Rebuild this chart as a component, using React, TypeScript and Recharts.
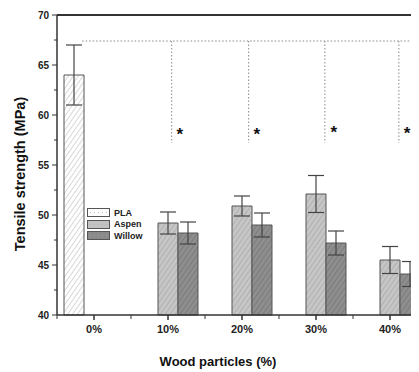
import React from "react"
import { BarChart, Bar, XAxis, YAxis, ErrorBar, ReferenceLine, ReferenceDot } from "recharts"

// categories and values
const categories = ["0%", "10%", "20%", "30%", "40%"]
const plaValues = [64.0, null, null, null, null]
const plaErrors = [3.0, null, null, null, null]
const aspenValues = [null, 49.2, 50.9, 52.1, 45.5]
const aspenErrors = [null, 1.1, 1.0, 1.85, 1.35]
const willowValues = [null, 48.2, 49.0, 47.2, 44.1]
const willowErrors = [null, 1.1, 1.2, 1.2, 1.25]

const yTicks = [40, 42.5, 45, 47.5, 50, 52.5, 55, 57.5, 60, 62.5, 65, 67.5, 70]

// significance markers (x in category units, 0 = first category centre)
const sigLineY = 67.4
const sigLineStart = -0.16
const sigLineEnd = 4.5
const sigBottomY = 57.2
const sigDropX = [1.05, 2.09, 3.12, 4.12]
const sigStarX = [1.16, 2.2, 3.24, 4.23]
const sigStarY = [58.2, 58.2, 58.4, 58.3]
const boundaryTicks = [-0.5, 0.5, 1.5, 2.5, 3.5]

const series = [
  { key: "PLA", fill: "url(#hatchPla)", swatch: "#ffffff" },
  { key: "Aspen", fill: "url(#hatchAspen)", swatch: "#c2c2c2" },
  { key: "Willow", fill: "url(#hatchWillow)", swatch: "#8a8a8a" },
]

const data = categories.map((c, i) => ({
  name: c,
  pos: i,
  PLA: plaValues[i],
  plaErr: plaErrors[i],
  Aspen: aspenValues[i],
  aspenErr: aspenErrors[i],
  Willow: willowValues[i],
  willowErr: willowErrors[i],
}))

const font = "'Liberation Sans', Arial, sans-serif"
const axisColor = "#333"

const YTick = (props: any) => {
  const { x, y, payload } = props
  const axisX = x + 8
  const major = payload.value % 5 === 0
  return (
    <g>
      <line x1={axisX - (major ? 5 : 3)} x2={axisX} y1={y} y2={y} stroke={axisColor} strokeWidth={1} />
      {major && (
        <text x={axisX - 8} y={y} dy={3.5} textAnchor="end" fontSize={10} fontWeight="bold" fill="#222" fontFamily={font}>
          {payload.value}
        </text>
      )}
    </g>
  )
}

const Star = (props: any) => (
  <text x={props.cx} y={props.cy} dy={7} textAnchor="middle" fontSize={17} fontWeight="bold" fill="#111" fontFamily={font}>
    *
  </text>
)

export default function App() {
  return (
    <div style={{ position: "relative", width: 411, height: 364, overflow: "hidden" }}>
      <BarChart
        width={440}
        height={364}
        data={data}
        margin={{ top: 7, right: 21, left: 0, bottom: 0 }}
        barCategoryGap={7}
        barGap={0}
      >
        <defs>
          <pattern id="hatchPla" width="4" height="4" patternUnits="userSpaceOnUse" patternTransform="rotate(35)">
            <rect width="4" height="4" fill="#ffffff" />
            <line x1="0" y1="0" x2="0" y2="4" stroke="#bdbdbd" strokeWidth="1.2" />
          </pattern>
          <pattern id="hatchAspen" width="4" height="4" patternUnits="userSpaceOnUse" patternTransform="rotate(35)">
            <rect width="4" height="4" fill="#c6c6c6" />
            <line x1="0" y1="0" x2="0" y2="4" stroke="#a2a2a2" strokeWidth="1.2" />
          </pattern>
          <pattern id="hatchWillow" width="4" height="4" patternUnits="userSpaceOnUse" patternTransform="rotate(35)">
            <rect width="4" height="4" fill="#8e8e8e" />
            <line x1="0" y1="0" x2="0" y2="4" stroke="#6e6e6e" strokeWidth="1.2" />
          </pattern>
        </defs>
        <XAxis
          xAxisId="cat"
          dataKey="name"
          height={57}
          tickSize={5}
          tickMargin={5}
          stroke={axisColor}
          strokeWidth={1.5}
          tick={{ fontSize: 11, fontWeight: "bold", fill: "#222", fontFamily: font }}
          label={{
            content: ({ viewBox }: any) => (
              <text
                x={viewBox.x + viewBox.width / 2 - 24}
                y={viewBox.y + 51}
                textAnchor="middle"
                fontSize={13}
                fontWeight="bold"
                fill="#111"
                fontFamily={font}
              >
                Wood particles (%)
              </text>
            ),
          }}
        />
        <XAxis xAxisId="num" dataKey="pos" type="number" domain={[-0.5, 4.5]} allowDataOverflow hide />
        <YAxis
          width={49}
          domain={[40, 70]}
          ticks={yTicks}
          interval={0}
          tickSize={5}
          tickMargin={3}
          tickLine={false}
          stroke={axisColor}
          strokeWidth={1.5}
          tick={<YTick />}
          label={{
            content: ({ viewBox }: any) => {
              const cx = 12
              const cy = viewBox.y + viewBox.height / 2 + 9
              return (
                <text
                  x={cx}
                  y={cy}
                  transform={`rotate(-90, ${cx}, ${cy})`}
                  textAnchor="middle"
                  dominantBaseline="central"
                  fontSize={14.5}
                  fontWeight="bold"
                  fill="#111"
                  fontFamily={font}
                >
                  Tensile strength (MPa)
                </text>
              )
            },
          }}
        />
        {series.map((s) => (
          <Bar
            key={s.key}
            xAxisId="cat"
            dataKey={s.key}
            fill={s.fill}
            stroke="#555"
            strokeWidth={1}
            isAnimationActive={false}
          >
            <ErrorBar
              dataKey={s.key === "PLA" ? "plaErr" : s.key === "Aspen" ? "aspenErr" : "willowErr"}
              width={8}
              stroke="#444"
              strokeWidth={1.2}
              isAnimationActive={false}
            />
          </Bar>
        ))}
        <ReferenceLine xAxisId="cat" y={70} stroke={axisColor} strokeWidth={2} />
        <ReferenceLine
          xAxisId="num"
          segment={[
            { x: sigLineStart, y: sigLineY },
            { x: sigLineEnd, y: sigLineY },
          ]}
          stroke="#888"
          strokeDasharray="1.5 2"
          ifOverflow="visible"
        />
        {sigDropX.map((x) => (
          <ReferenceLine
            key={"d" + x}
            xAxisId="num"
            segment={[
              { x, y: sigLineY },
              { x, y: sigBottomY },
            ]}
            stroke="#888"
            strokeDasharray="1.5 2"
            ifOverflow="visible"
          />
        ))}
        {sigStarX.map((x, i) => (
          <ReferenceDot key={"s" + x} xAxisId="num" x={x} y={sigStarY[i]} r={0} shape={<Star />} ifOverflow="visible" />
        ))}
        {boundaryTicks.map((x) => (
          <ReferenceLine
            key={"b" + x}
            xAxisId="num"
            segment={[
              { x, y: 40 },
              { x, y: 39.6 },
            ]}
            stroke={axisColor}
            strokeWidth={1}
            ifOverflow="visible"
          />
        ))}
      </BarChart>
      <div style={{ position: "absolute", left: 79, top: 199, fontFamily: font, fontSize: 9, fontWeight: "bold", color: "#222" }}>
        {series.map((s) => (
          <div key={s.key} style={{ display: "flex", alignItems: "center", height: 11.5 }}>
            <svg width={23} height={9} style={{ marginRight: 4 }}>
              <rect x={0.5} y={0.5} width={22} height={8} fill={s.swatch} stroke="#555" strokeWidth={1} />
              <line x1={3} x2={20} y1={4.5} y2={4.5} stroke="#aaa" strokeWidth={0.8} strokeDasharray="1 3" />
            </svg>
            <span>{s.key}</span>
          </div>
        ))}
      </div>
    </div>
  )
}
